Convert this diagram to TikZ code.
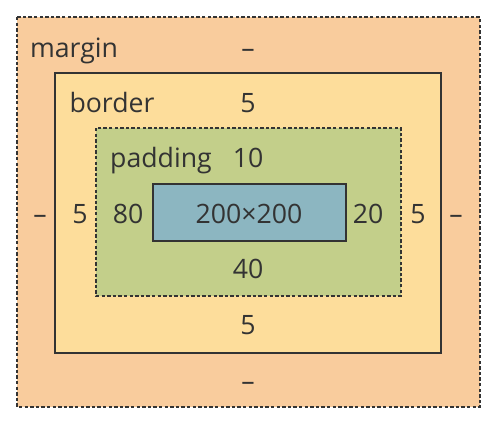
\documentclass[tikz,border=0pt]{standalone}
\usepackage{fontspec}
\setmainfont{Open Sans}
\tikzset{every picture/.style={line width=0.75pt}}
\definecolor{marginfill}{RGB}{249,204,157}
\definecolor{borderfill}{RGB}{253,221,155}
\definecolor{paddingfill}{RGB}{195,207,138}
\definecolor{contentfill}{RGB}{140,182,193}
\definecolor{boxtext}{RGB}{51,51,51}
\tikzset{
  lbl/.style={anchor=base, inner sep=0pt, text=boxtext, font=\fontsize{20}{22}\selectfont},
  dashbox/.style={draw=boxtext, line width=1.1pt, dash pattern=on 2.6pt off 1.6pt},
  solidbox/.style={draw=boxtext, line width=1.1pt}
}
\begin{document}
\begin{tikzpicture}[x=0.75pt,y=0.75pt,yscale=-1,xscale=1]
\path (0,0) rectangle (502,428); %set diagram size 502 x 428

%Shape: Rectangle [margin]
\draw [dashbox, fill=marginfill] (17,17) rectangle (480,407) ;
%Shape: Rectangle [border]
\draw [solidbox, fill=borderfill] (55,73) rectangle (441,353) ;
%Shape: Rectangle [padding]
\draw [dashbox, fill=paddingfill] (96,128) rectangle (401,296) ;
%Shape: Rectangle [content]
\draw [solidbox, fill=contentfill] (153,184) rectangle (346,241) ;

% Text Node
\node (marginlbl) at (74,57) [lbl] {margin};
\node (margintop) at (248,57) [lbl] {–};
% Text Node
\node (borderlbl) at (112,112) [lbl] {border};
\node (bordertop) at (248,112) [lbl] {5};
% Text Node
\node (paddinglbl) at (161,167) [lbl] {padding};
\node (paddingtop) at (248,167) [lbl] {10};
% Text Node
\node (marginleft) at (40,223) [lbl] {–};
\node (borderleft) at (80,223) [lbl] {5};
\node (paddingleft) at (128,223) [lbl] {80};
\node (contentlbl) at (249,223) [lbl] {200×200};
\node (paddingright) at (368,223) [lbl] {20};
\node (borderright) at (418,223) [lbl] {5};
\node (marginright) at (456,223) [lbl] {–};
% Text Node
\node (paddingbottom) at (248,278) [lbl] {40};
\node (borderbottom) at (248,334) [lbl] {5};
\node (marginbottom) at (248,390) [lbl] {–};

\end{tikzpicture}
\end{document}
